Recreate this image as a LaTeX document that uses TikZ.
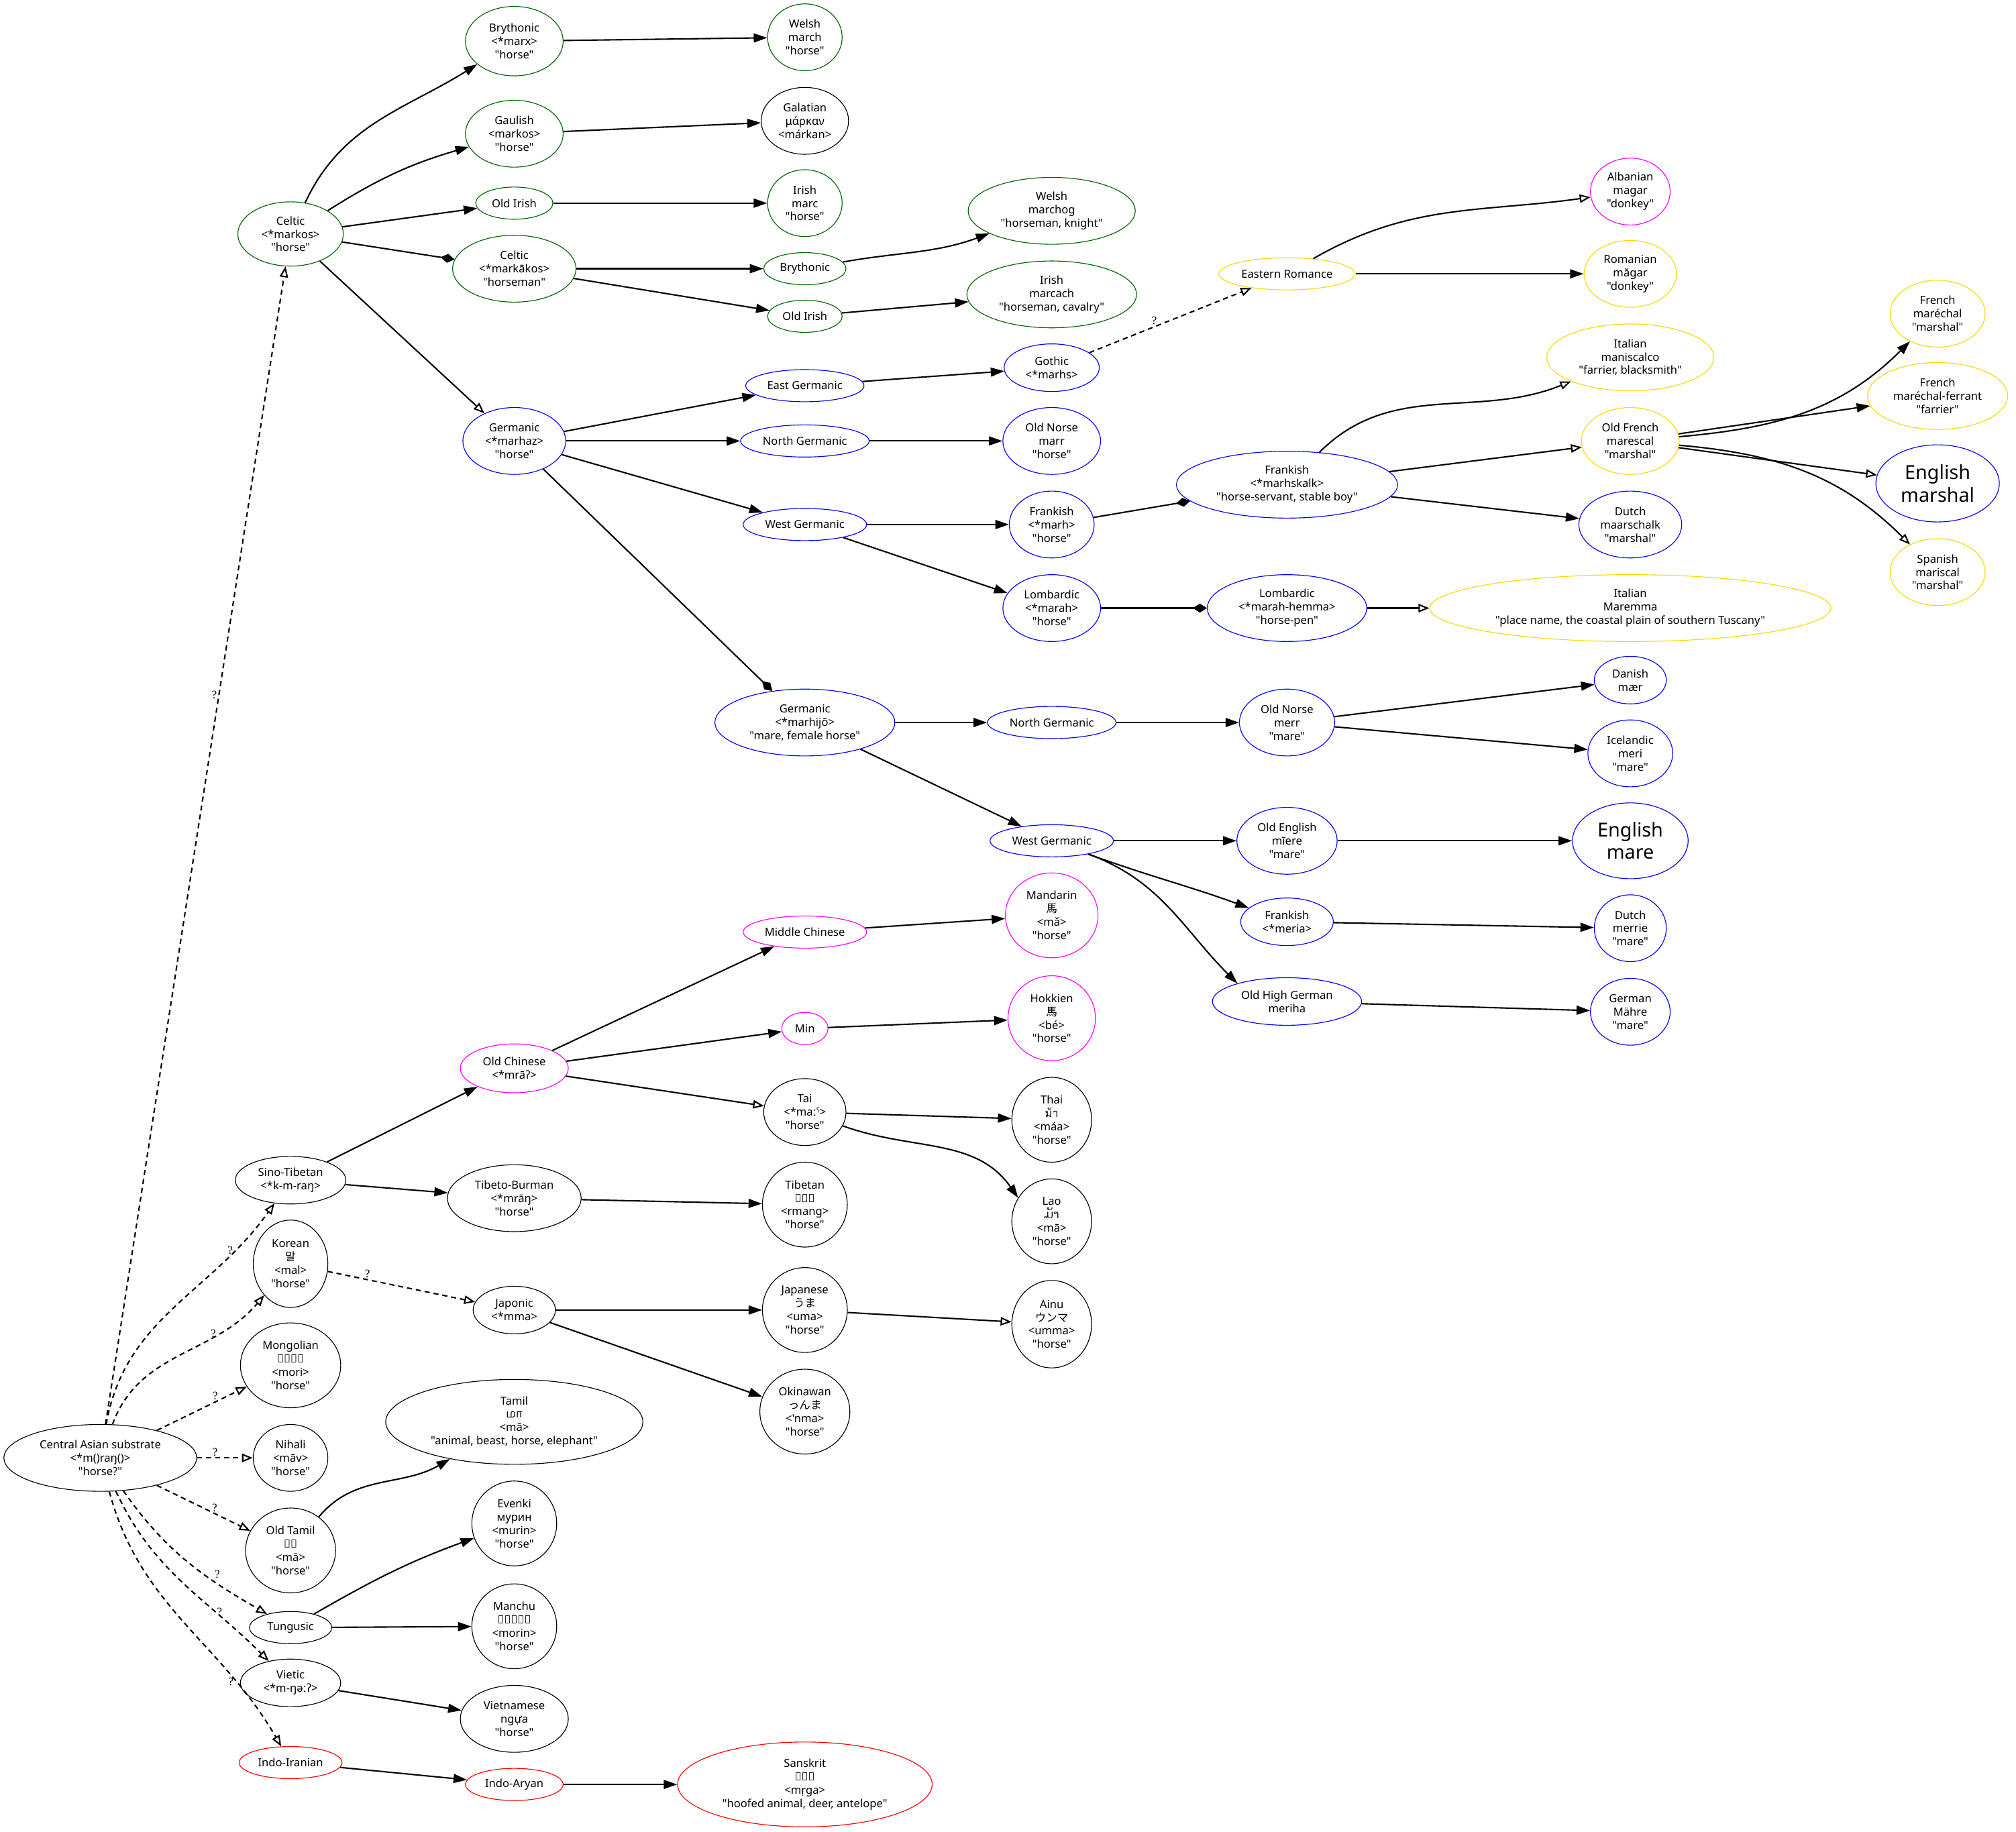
\documentclass[tikz,border=0pt]{standalone}
\usepackage{fontspec}
\setmainfont{Noto Sans}
\newfontfamily\langfont{Noto Sans}
\newfontfamily\cjkfont{Noto Sans CJK JP}
\newfontfamily\korfont{Noto Sans CJK KR}
\newfontfamily\thaifont[Script=Thai]{Loma}
\newfontfamily\laofont[Script=Lao]{Dhyana}
\newfontfamily\tamilfont[Script=Tamil]{Hind Madurai}
\newfontfamily\qfont{Liberation Serif}
\usetikzlibrary{arrows.meta,shapes.geometric}
\definecolor{celtgreen}{HTML}{006400}
\definecolor{germblue}{HTML}{0000FF}
\definecolor{romgold}{HTML}{FFD700}
\definecolor{sinopink}{HTML}{FF00FF}
\definecolor{iirred}{HTML}{FF0000}

\begin{document}
\begin{tikzpicture}[x=1pt,y=1pt,font=\langfont\fontsize{8.66}{10.4}\selectfont,
    lang/.style 2 args={ellipse,draw,line width=0.6pt,inner sep=0pt,
      align=center,minimum width=#1pt,minimum height=#2pt},
    greenlang/.style={draw=celtgreen},
    bluelang/.style={draw=germblue},
    goldlang/.style={draw=romgold},
    pinklang/.style={draw=sinopink},
    redlang/.style={draw=iirred},
    bigword/.style={font=\langfont\fontsize{15}{17.4}\selectfont},
    inh/.style={line width=1.1pt,-{Triangle[length=10.5pt,width=7pt]}},
    drv/.style={line width=1.1pt,-{Diamond[length=11pt,width=7pt]}},
    brw/.style={line width=1.1pt,-{Triangle[open,length=8.5pt,width=6.5pt]}},
    unsure/.style={brw,dash pattern=on 4pt off 3pt},
    qmark/.style={font=\qfont\fontsize{9}{9}\selectfont,inner sep=1pt}]

  \useasboundingbox (0,0) rectangle (1568,-1425);

  % --- Celtic ---
  \node[lang={82}{50},greenlang] (celtic) at (226,-182) {Celtic\\<*markos>\\"horse"};
  \node[lang={76}{54},greenlang] (bryA) at (400,-32) {Brythonic\\<*marx>\\"horse"};
  \node[lang={76}{52},greenlang] (gaul) at (400,-104) {Gaulish\\<markos>\\"horse"};
  \node[lang={60}{25},greenlang] (oirishA) at (400,-158) {Old Irish};
  \node[lang={96}{52},greenlang] (celticB) at (400,-209) {Celtic\\<*markākos>\\"horseman"};
  \node[lang={58}{52},greenlang] (welshA) at (626,-29) {Welsh\\march\\"horse"};
  \node[lang={68}{52}] (galatian) at (626,-94) {Galatian\\μάρκαν\\<márkan>};
  \node[lang={58}{52},greenlang] (irishA) at (626,-158) {Irish\\marc\\"horse"};
  \node[lang={64}{25},greenlang] (bryB) at (626,-209) {Brythonic};
  \node[lang={58}{25},greenlang] (oirishB) at (626,-246) {Old Irish};
  \node[lang={130}{52},greenlang] (welshB) at (818,-164) {Welsh\\marchog\\"horseman, knight"};
  \node[lang={132}{52},greenlang] (irishB) at (818,-229) {Irish\\marcach\\"horseman, cavalry"};

  % --- Germanic "horse" ---
  \node[lang={80}{52},bluelang] (germA) at (400,-343) {Germanic\\<*marhaz>\\"horse"};
  \node[lang={92}{25},bluelang] (egerm) at (626,-300) {East Germanic};
  \node[lang={100}{25},bluelang] (ngermA) at (626,-343) {North Germanic};
  \node[lang={96}{25},bluelang] (wgermA) at (626,-408) {West Germanic};
  \node[lang={74}{37},bluelang] (gothic) at (818,-286) {Gothic\\<*marhs>};
  \node[lang={76}{52},bluelang] (onorseA) at (818,-343) {Old Norse\\marr\\"horse"};
  \node[lang={66}{52},bluelang] (frankA) at (818,-408) {Frankish\\<*marh>\\"horse"};
  \node[lang={76}{52},bluelang] (lombA) at (818,-473) {Lombardic\\<*marah>\\"horse"};
  \node[lang={172}{52},bluelang] (frankB) at (1001,-377) {Frankish\\<*marhskalk>\\"horse-servant, stable boy"};
  \node[lang={124}{52},bluelang] (lombB) at (1001,-473) {Lombardic\\<*marah-hemma>\\"horse-pen"};
  \node[lang={80}{52},bluelang] (dutchA) at (1268,-408) {Dutch\\maarschalk\\"marshal"};
  \node[lang={96}{60},bluelang,bigword] (englishA) at (1507,-376) {English\\marshal};

  % --- Romance and Albanian ---
  \node[lang={106}{25},goldlang] (eroman) at (1001,-213) {Eastern Romance};
  \node[lang={72}{52},goldlang] (romanian) at (1268,-213) {Romanian\\măgar\\"donkey"};
  \node[lang={130}{52},goldlang] (italA) at (1268,-278) {Italian\\maniscalco\\"farrier, blacksmith"};
  \node[lang={76}{52},goldlang] (ofrench) at (1268,-343) {Old French\\marescal\\"marshal"};
  \node[lang={312}{52},goldlang] (italB) at (1268,-473) {Italian\\Maremma\\"place name, the coastal plain of southern Tuscany"};
  \node[lang={74}{52},goldlang] (frenchA) at (1507,-244) {French\\maréchal\\"marshal"};
  \node[lang={109}{52},goldlang] (frenchB) at (1507,-308) {French\\maréchal-ferrant\\"farrier"};
  \node[lang={74}{52},goldlang] (spanish) at (1507,-445) {Spanish\\mariscal\\"marshal"};
  \node[lang={62}{52},pinklang] (albanian) at (1268,-149) {Albanian\\magar\\"donkey"};

  % --- Germanic "mare" ---
  \node[lang={140}{52},bluelang] (germB) at (626,-562) {Germanic\\<*marhijō>\\"mare, female horse"};
  \node[lang={100}{25},bluelang] (ngermB) at (818,-562) {North Germanic};
  \node[lang={96}{25},bluelang] (wgermB) at (818,-654) {West Germanic};
  \node[lang={74}{52},bluelang] (onorseB) at (1001,-562) {Old Norse\\merr\\"mare"};
  \node[lang={78}{52},bluelang] (oenglish) at (1001,-654) {Old English\\mīere\\"mare"};
  \node[lang={72}{37},bluelang] (frankC) at (1001,-717) {Frankish\\<*meria>};
  \node[lang={116}{37},bluelang] (ohg) at (1001,-779) {Old High German\\meriha};
  \node[lang={56}{37},bluelang] (danish) at (1268,-529) {Danish\\mær};
  \node[lang={66}{52},bluelang] (iceland) at (1268,-586) {Icelandic\\meri\\"mare"};
  \node[lang={90}{59},bluelang,bigword] (englishB) at (1268,-654) {English\\mare};
  \node[lang={56}{52},bluelang] (dutchB) at (1268,-722) {Dutch\\merrie\\"mare"};
  \node[lang={62}{52},bluelang] (german) at (1268,-787) {German\\Mähre\\"mare"};

  % --- Chinese ---
  \node[lang={84}{38},pinklang] (ochinese) at (400,-831) {Old Chinese\\<*mrāʔ>};
  \node[lang={96}{25},pinklang] (mchinese) at (626,-725) {Middle Chinese};
  \node[lang={36}{25},pinklang] (min) at (626,-800) {Min};
  \node[lang={72}{66},pinklang] (mandarin) at (818,-712) {Mandarin\\{\cjkfont 馬}\\<mǎ>\\"horse"};
  \node[lang={68}{66},pinklang] (hokkien) at (818,-792) {Hokkien\\{\cjkfont 馬}\\<bé>\\"horse"};

  % --- the other Asian words ---
  \node[lang={64}{52}] (tai) at (626,-865) {Tai\\<*maːˤ>\\"horse"};
  \node[lang={62}{66}] (thai) at (818,-871) {Thai\\{\thaifont ม้า}\\<máa>\\"horse"};
  \node[lang={62}{66}] (lao) at (818,-950) {Lao\\{\laofont ມ້າ}\\<mā>\\"horse"};
  \node[lang={86}{37}] (sinotib) at (226,-918) {Sino-Tibetan\\<*k-m-raŋ>};
  \node[lang={104}{52}] (tibburm) at (400,-932) {Tibeto-Burman\\<*mrāŋ>\\"horse"};
  \node[lang={66}{66}] (tibetan) at (626,-937) {Tibetan\\རྨང\\<rmang>\\"horse"};
  \node[lang={58}{68}] (korean) at (226,-983) {Korean\\{\korfont 말}\\<mal>\\"horse"};
  \node[lang={64}{37}] (japonic) at (400,-1019) {Japonic\\<*mma>};
  \node[lang={66}{66}] (japanese) at (626,-1019) {Japanese\\{\cjkfont うま}\\<uma>\\"horse"};
  \node[lang={62}{68}] (ainu) at (818,-1030) {Ainu\\{\cjkfont ウンマ}\\<umma>\\"horse"};
  \node[lang={78}{66}] (mongol) at (226,-1062) {Mongolian\\ᠮᠣᠷᠢ\\<mori>\\"horse"};
  \node[lang={70}{66}] (okinawa) at (626,-1098) {Okinawan\\{\cjkfont っんま}\\<'nma>\\"horse"};
  \node[lang={200}{66}] (tamil) at (400,-1106) {Tamil\\{\tamilfont மா}\\<mā>\\"animal, beast, horse, elephant"};
  \node[lang={150}{52}] (central) at (78,-1134) {Central Asian substrate\\<*m()raŋ()>\\"horse?"};
  \node[lang={58}{52}] (nihali) at (226,-1134) {Nihali\\<māv>\\"horse"};
  \node[lang={70}{66}] (otamil) at (226,-1206) {Old Tamil\\𑀫𑀸\\<mā>\\"horse"};
  \node[lang={66}{66}] (evenki) at (400,-1185) {Evenki\\мурин\\<murin>\\"horse"};
  \node[lang={64}{25}] (tungusic) at (226,-1266) {Tungusic};
  \node[lang={66}{66}] (manchu) at (400,-1265) {Manchu\\ᠮᠣᠷᡳᠨ\\<morin>\\"horse"};
  \node[lang={78}{37}] (vietic) at (226,-1309) {Vietic\\<*m-ŋəːʔ>};
  \node[lang={84}{52}] (vietnam) at (400,-1337) {Vietnamese\\ngựa\\"horse"};

  % --- Indo-Iranian ---
  \node[lang={80}{25},redlang] (indoiran) at (226,-1371) {Indo-Iranian};
  \node[lang={76}{25},redlang] (indoaryan) at (400,-1388) {Indo-Aryan};
  \node[lang={198}{66},redlang] (sanskrit) at (626,-1388) {Sanskrit\\𑀫𑀾𑀕\\<mṛga>\\"hoofed animal, deer, antelope"};

  % --- inherited ---
  \foreach \a/\b in {celtic/oirishA,bryA/welshA,gaul/galatian,oirishA/irishA,
      celticB/bryB,celticB/oirishB,oirishB/irishB,germA/egerm,germA/ngermA,
      germA/wgermA,egerm/gothic,ngermA/onorseA,wgermA/frankA,wgermA/lombA,
      frankB/dutchA,eroman/romanian,ofrench/frenchB,germB/ngermB,germB/wgermB,
      ngermB/onorseB,onorseB/danish,onorseB/iceland,wgermB/oenglish,
      oenglish/englishB,frankC/dutchB,ohg/german,sinotib/ochinese,
      sinotib/tibburm,ochinese/mchinese,ochinese/min,mchinese/mandarin,
      min/hokkien,tai/thai,tibburm/tibetan,japonic/japanese,japonic/okinawa,
      tungusic/manchu,vietic/vietnam,indoiran/indoaryan,indoaryan/sanskrit}
    \draw[inh] (\a) -- (\b);
  \draw[inh] (celtic) to[out=65,in=-148] (bryA);
  \draw[inh] (celtic) to[bend left=8] (gaul);
  \draw[inh] (bryB) to[out=10,in=-160] (welshB);
  \draw[inh] (ofrench) to[out=5,in=-135] (frenchA);
  \draw[inh] (wgermB) to[out=-20,in=160] (frankC);
  \draw[inh] (wgermB) to[out=-20,in=135] (ohg.160);
  \draw[inh] (tai) to[out=-20,in=125] (lao.145);
  \draw[inh] (otamil) to[out=50,in=-150] (tamil);
  \draw[inh] (tungusic) to[out=30,in=-160] (evenki);

  % --- derived ---
  \foreach \a/\b in {celtic/celticB,germA/germB,frankA/frankB,lombA/lombB}
    \draw[drv] (\a) -- (\b);

  % --- borrowed ---
  \foreach \a/\b in {celtic/germA,frankB/ofrench,lombB/italB,ofrench/englishA,
      ochinese/tai,japanese/ainu}
    \draw[brw] (\a) -- (\b);
  \draw[brw] (eroman) to[out=30,in=-172] (albanian);
  \draw[brw] (frankB) to[out=45,in=-158] (italA);
  \draw[brw] (ofrench) to[out=-5,in=135] (spanish);

  % --- uncertain ---
  \draw[unsure] (central) -- node[qmark,pos=0.63,left] {?} (celtic);
  \draw[unsure] (central) to[out=80,in=-125] node[qmark,pos=0.8,left] {?} (sinotib);
  \draw[unsure] (central) to[out=70,in=-130] node[qmark,pos=0.72,left] {?} (korean);
  \draw[unsure] (central) -- node[qmark,pos=0.65,above] {?} (mongol);
  \draw[unsure] (central) -- node[qmark,pos=0.32,above] {?} (nihali);
  \draw[unsure] (central) -- node[qmark,pos=0.62,above] {?} (otamil);
  \draw[unsure] (central) to[out=-55,in=150] node[qmark,pos=0.68,above right] {?} (tungusic);
  \draw[unsure] (central) to[out=-65,in=135] node[qmark,pos=0.7,right] {?} (vietic);
  \draw[unsure] (central) to[out=-75,in=120] node[qmark,pos=0.76,left] {?} (indoiran);
  \draw[unsure] (korean) -- node[qmark,pos=0.27,above] {?} (japonic);
  \draw[unsure] (gothic) -- node[qmark,pos=0.4,above] {?} (eroman);

\end{tikzpicture}
\end{document}
